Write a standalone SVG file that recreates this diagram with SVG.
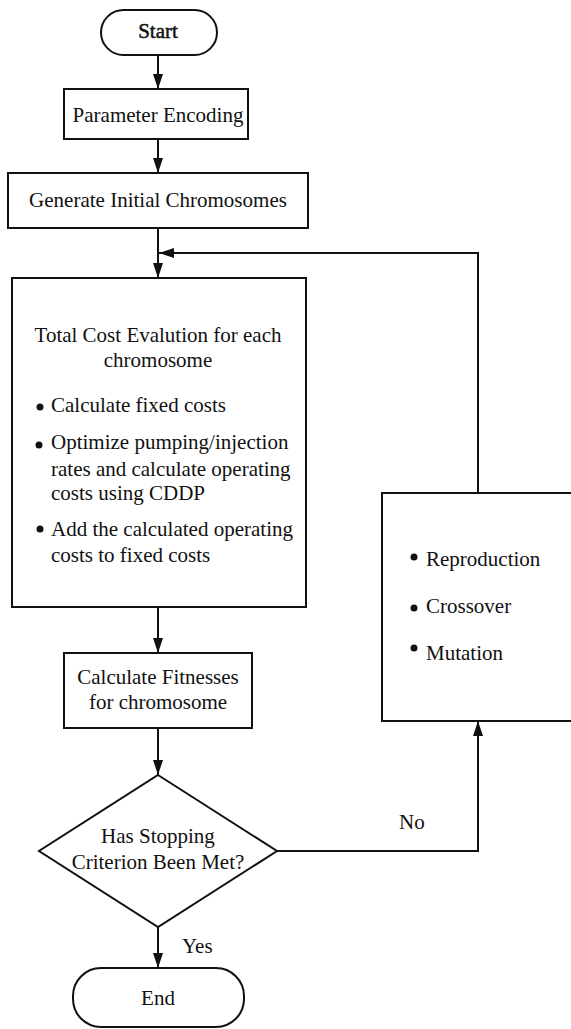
<svg xmlns="http://www.w3.org/2000/svg" width="571" height="1029" viewBox="0 0 571 1029" font-family="Liberation Serif" font-size="21">
<style>
  .box { fill: #fff; stroke: #111; stroke-width: 2; }
  .line { fill: none; stroke: #111; stroke-width: 2; }
  .c { text-anchor: middle; }
  .dot { fill: #111; }
</style>
<defs>
  <marker id="arr" viewBox="0 0 15 10" refX="15" refY="5" markerWidth="15" markerHeight="10" markerUnits="userSpaceOnUse" orient="auto">
    <path d="M0,0 L15,5 L0,10 Z" fill="#111"/>
  </marker>
</defs>
<rect width="571" height="1029" fill="#fff"/>

<g id="connectors" font-family="Liberation Serif" fill="#111">
  <line class="line" x1="158" y1="55" x2="158" y2="89" marker-end="url(#arr)"/>
  <line class="line" x1="158" y1="139" x2="158" y2="173" marker-end="url(#arr)"/>
  <line class="line" x1="158" y1="228" x2="158" y2="278" marker-end="url(#arr)"/>
  <polyline class="line" points="478,493 478,253 159,253" marker-end="url(#arr)"/>
  <line class="line" x1="158" y1="607" x2="158" y2="653" marker-end="url(#arr)"/>
  <line class="line" x1="158" y1="728" x2="158" y2="775" marker-end="url(#arr)"/>
  <polyline class="line" points="277,851 478,851 478,721" marker-end="url(#arr)"/>
  <line class="line" x1="158" y1="927" x2="158" y2="968" marker-end="url(#arr)"/>
  <text x="399" y="829">No</text>
  <text x="182" y="953">Yes</text>
</g>

<g id="start" font-family="Liberation Serif" fill="#111">
  <rect class="box" x="101" y="10" width="116" height="45" rx="22.5"/>
  <text class="c" x="158" y="38" stroke="#111" stroke-width="0.5">Start</text>
</g>

<g id="encoding" font-family="Liberation Serif" fill="#111">
  <rect class="box" x="64" y="89" width="184" height="50"/>
  <text class="c" x="158" y="122">Parameter Encoding</text>
</g>

<g id="generate" font-family="Liberation Serif" fill="#111">
  <rect class="box" x="8" y="173" width="300" height="55"/>
  <text class="c" x="158" y="207">Generate Initial Chromosomes</text>
</g>

<g id="evaluation" font-family="Liberation Serif" fill="#111">
  <rect class="box" x="12" y="278" width="294" height="329"/>
  <text class="c" x="158" y="342">Total Cost Evalution for each</text>
  <text class="c" x="158" y="367">chromosome</text>
  <circle class="dot" cx="40" cy="407" r="3.5"/>
  <text x="51" y="412">Calculate fixed costs</text>
  <circle class="dot" cx="39" cy="445" r="3.5"/>
  <text x="51" y="449">Optimize pumping/injection</text>
  <text x="51" y="476">rates and calculate operating</text>
  <text x="51" y="500">costs using CDDP</text>
  <circle class="dot" cx="40" cy="529" r="3.5"/>
  <text x="51" y="536">Add the calculated operating</text>
  <text x="51" y="562">costs to fixed costs</text>
</g>

<g id="fitness" font-family="Liberation Serif" fill="#111">
  <rect class="box" x="64" y="653" width="188" height="75"/>
  <text class="c" x="158" y="684">Calculate Fitnesses</text>
  <text class="c" x="158" y="709">for chromosome</text>
</g>

<g id="decision" font-family="Liberation Serif" fill="#111">
  <polygon class="box" points="158,775 277,851 158,927 39,851"/>
  <text class="c" x="158" y="843">Has Stopping</text>
  <text class="c" x="158" y="869">Criterion Been Met?</text>
</g>

<g id="operators" font-family="Liberation Serif" fill="#111">
  <rect class="box" x="382" y="493" width="200" height="228"/>
  <circle class="dot" cx="414" cy="557" r="3.5"/>
  <text x="426" y="566">Reproduction</text>
  <circle class="dot" cx="414" cy="608" r="3.5"/>
  <text x="426" y="613">Crossover</text>
  <circle class="dot" cx="414" cy="648" r="3.5"/>
  <text x="426" y="660">Mutation</text>
</g>

<g id="end" font-family="Liberation Serif" fill="#111">
  <rect class="box" x="73" y="968" width="171" height="59" rx="28"/>
  <text class="c" x="158" y="1005">End</text>
</g>
</svg>
